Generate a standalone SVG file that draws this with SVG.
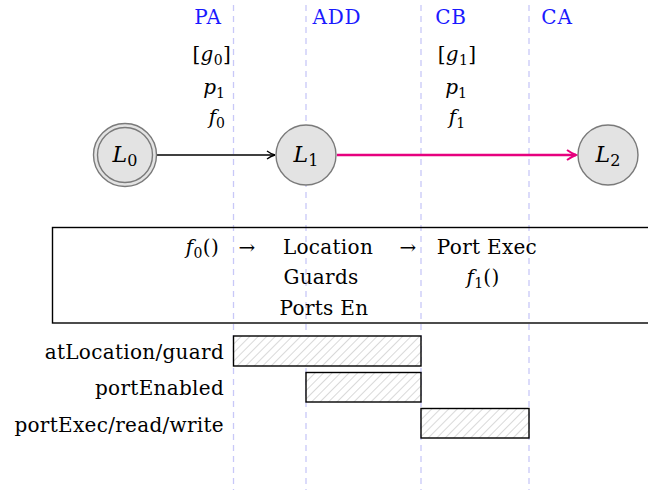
<svg xmlns="http://www.w3.org/2000/svg" width="648" height="490" viewBox="0 0 648 490">
  <style>
    text { font-family: "DejaVu Serif", "Liberation Serif", serif; fill: #000; }
    .phase { fill: #1a1aff; font-size: 20px; letter-spacing: 0.8px; }
    .math { font-style: italic; font-size: 20px; }
    .rm { font-size: 20px; letter-spacing: 0.3px; }
    .grid { stroke: #c8c8f8; stroke-width: 1.3; stroke-dasharray: 6 5; fill: none; }
    .state { fill: #e3e3e3; stroke: #7a7a7a; stroke-width: 1.4; }
    .bar { fill: url(#hatch); stroke: #000; stroke-width: 1.4; }
    .lbl { font-size: 22px; font-style: italic; }
  </style>
  <defs>
    <pattern id="hatch" patternUnits="userSpaceOnUse" width="6" height="6" patternTransform="rotate(45)">
      <rect width="6" height="6" fill="#fff"/>
      <line x1="0" y1="0" x2="0" y2="6" stroke="#b4b4b4" stroke-width="1"/>
    </pattern>
    <marker id="arrBlack" viewBox="0 0 10 10" refX="9" refY="5" markerWidth="10" markerHeight="10" markerUnits="userSpaceOnUse" orient="auto">
      <path d="M1,1 Q5,4 9,5 Q5,6 1,9" fill="none" stroke="#000" stroke-width="1.3"/>
    </marker>
    <marker id="arrMag" viewBox="0 0 12 12" refX="10" refY="6" markerWidth="12" markerHeight="12" markerUnits="userSpaceOnUse" orient="auto">
      <path d="M1,1 Q6,4.5 10,6 Q6,7.5 1,11" fill="none" stroke="#e6007e" stroke-width="2"/>
    </marker>
  </defs>

  <rect width="648" height="490" fill="#fff"/>

  <!-- phase separators -->
  <g id="phase-lines">
    <line class="grid" x1="233.5" y1="5" x2="233.5" y2="490"/>
    <line class="grid" x1="306" y1="5" x2="306" y2="490"/>
    <line class="grid" x1="421" y1="5" x2="421" y2="490"/>
    <line class="grid" x1="529" y1="5" x2="529" y2="490"/>
  </g>

  <!-- phase labels -->
  <g id="phase-labels">
    <text class="phase" x="208" y="24" text-anchor="middle">PA</text>
    <text class="phase" x="337" y="24" text-anchor="middle">ADD</text>
    <text class="phase" x="451" y="24" text-anchor="middle">CB</text>
    <text class="phase" x="557" y="24" text-anchor="middle">CA</text>
  </g>

  <!-- transitions -->
  <g id="connectors">
    <line x1="156.5" y1="155" x2="275" y2="155" stroke="#000" stroke-width="1.3" marker-end="url(#arrBlack)"/>
    <line x1="337" y1="155" x2="576" y2="155" stroke="#e6007e" stroke-width="2.6" marker-end="url(#arrMag)"/>
  </g>

  <!-- edge annotations -->
  <g id="edge-L0-L1-labels">
    <text class="rm" x="231" y="61" text-anchor="end">[<tspan font-style="italic">g</tspan><tspan font-size="14" dy="4">0</tspan><tspan dy="-4">]</tspan></text>
    <text class="math" x="225" y="94" text-anchor="end">p<tspan font-style="normal" font-size="14" dy="4">1</tspan></text>
    <text class="math" x="225" y="124" text-anchor="end">f<tspan font-style="normal" font-size="14" dy="4">0</tspan></text>
  </g>
  <g id="edge-L1-L2-labels">
    <text class="rm" x="457" y="61" text-anchor="middle">[<tspan font-style="italic">g</tspan><tspan font-size="14" dy="4">1</tspan><tspan dy="-4">]</tspan></text>
    <text class="math" x="456" y="94" text-anchor="middle">p<tspan font-style="normal" font-size="14" dy="4">1</tspan></text>
    <text class="math" x="457" y="124" text-anchor="middle">f<tspan font-style="normal" font-size="14" dy="4">1</tspan></text>
  </g>

  <!-- states -->
  <g id="L0">
    <circle class="state" cx="125" cy="155" r="31.5" fill="none"/>
    <circle class="state" cx="125" cy="155" r="27.5"/>
    <text class="lbl" x="125" y="162" text-anchor="middle">L<tspan font-style="normal" font-size="16" dy="4">0</tspan></text>
  </g>
  <g id="L1">
    <circle class="state" cx="306" cy="155" r="30"/>
    <text class="lbl" x="306" y="162" text-anchor="middle">L<tspan font-style="normal" font-size="16" dy="4">1</tspan></text>
  </g>
  <g id="L2">
    <circle class="state" cx="608" cy="155" r="30"/>
    <text class="lbl" x="608" y="162" text-anchor="middle">L<tspan font-style="normal" font-size="16" dy="4">2</tspan></text>
  </g>

  <!-- execution sequence box -->
  <g id="sequence">
    <rect x="52.5" y="227.5" width="600" height="95.5" fill="none" stroke="#000" stroke-width="1.4"/>
    <text class="rm" x="219" y="254" text-anchor="end"><tspan font-style="italic">f</tspan><tspan font-size="14" dy="4">0</tspan><tspan dy="-4">()</tspan></text>
    <text class="rm" x="247" y="254" text-anchor="middle">→</text>
    <text class="rm" x="328" y="254" text-anchor="middle">Location</text>
    <text class="rm" x="408" y="254" text-anchor="middle">→</text>
    <text class="rm" x="487" y="254" text-anchor="middle">Port Exec</text>
    <text class="rm" x="321" y="284" text-anchor="middle">Guards</text>
    <text class="rm" x="483" y="284" text-anchor="middle"><tspan font-style="italic">f</tspan><tspan font-size="14" dy="4">1</tspan><tspan dy="-4">()</tspan></text>
    <text class="rm" x="324" y="315" text-anchor="middle">Ports En</text>
  </g>

  <!-- signal activity bars -->
  <g id="bar-atLocation">
    <text class="rm" x="224" y="359" text-anchor="end">atLocation/guard</text>
    <rect class="bar" x="233.5" y="336" width="187.5" height="30"/>
  </g>
  <g id="bar-portEnabled">
    <text class="rm" x="224" y="395" text-anchor="end">portEnabled</text>
    <rect class="bar" x="306" y="372.5" width="115" height="29.5"/>
  </g>
  <g id="bar-portExec">
    <text class="rm" x="224" y="432" text-anchor="end">portExec/read/write</text>
    <rect class="bar" x="421" y="408.5" width="108" height="29.5"/>
  </g>
</svg>
